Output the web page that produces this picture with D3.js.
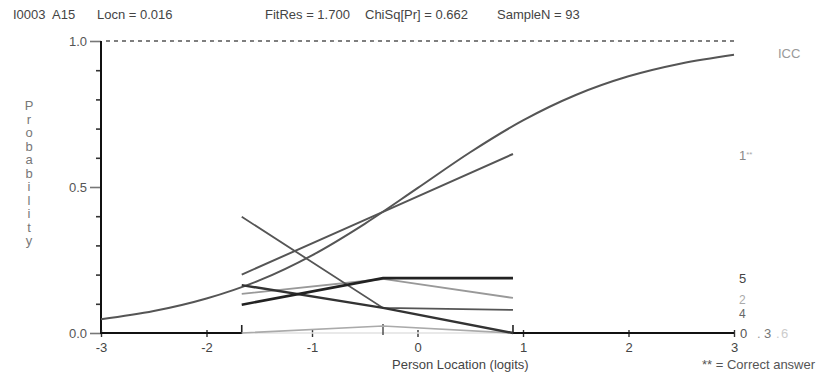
<!DOCTYPE html>
<html><head><meta charset="utf-8">
<script src="https://cdn.jsdelivr.net/npm/d3@7"></script>
<style>
html,body{margin:0;padding:0;background:#fff;}
svg text{font-family:"Liberation Sans",Arial,sans-serif;}
</style></head>
<body>
<svg id="c" width="819" height="379"></svg>
<script>
// ---- data ----
const headerLabels = ["I0003  A15", "Locn = 0.016", "FitRes = 1.700", "ChiSq[Pr] = 0.662", "SampleN = 93"];
const xTicks = [-3, -2, -1, 0, 1, 2, 3];
const yMajorTicks = [0, 0.5, 1];
const yMinorTicks = [0.1, 0.2, 0.3, 0.4, 0.6, 0.7, 0.8, 0.9];
const iccTheta = [-3, -2.5, -2, -1.5, -1, -0.5, 0, 0.5, 1, 1.5, 2, 2.5, 3];
const iccProb  = [0.047, 0.075, 0.118, 0.180, 0.266, 0.374, 0.496, 0.619, 0.728, 0.815, 0.879, 0.923, 0.953];
const classMeans = [-1.666, -0.327, 0.905];
const option1 = [0.200, 0.415, 0.613];
const option2 = [0.134, 0.185, 0.120];
const option3 = [0.164, 0.086, 0.000];
const option4 = [0.398, 0.086, 0.079];
const option5 = [0.097, 0.188, 0.188];
const option6 = [0.000, 0.024, 0.000];

const svg = d3.select("#c");
const x = d3.scaleLinear().domain([-3, 3]).range([101, 734]);
const y = d3.scaleLinear().domain([0, 1]).range([333, 41]);
const FS = 13;

// header
const headerX = [13, 97, 265, 365, 497];
svg.selectAll("text.hdr").data(headerLabels).join("text")
  .attr("class", "hdr").attr("x", (d, i) => headerX[i]).attr("y", 19)
  .attr("font-size", FS).attr("fill", "#444").attr("xml:space", "preserve").text(d => d);

// y axis label (vertical letters)
const yLabel = "Probability".split("");
svg.selectAll("text.ylab").data(yLabel).join("text")
  .attr("class", "ylab").attr("x", 29).attr("y", (d, i) => 110 + i * 13.5)
  .attr("text-anchor", "middle").attr("font-size", FS).attr("fill", "#777").text(d => d);

// dashed line at 1.0
svg.append("line").attr("x1", x(-3) + 5).attr("x2", x(3)).attr("y1", y(1)).attr("y2", y(1))
  .attr("stroke", "#555").attr("stroke-width", 1.6).attr("stroke-dasharray", "4,4");

// y axis
const yMajor = svg.append("g").attr("transform", `translate(${x(-3)},0)`)
  .call(d3.axisLeft(y).tickValues(yMajorTicks).tickSize(11).tickSizeOuter(0).tickPadding(3).tickFormat(d3.format(".1f")));
yMajor.select(".domain").remove();
yMajor.selectAll(".tick line").attr("stroke", "#777").attr("stroke-width", 1.6);
yMajor.selectAll(".tick text").attr("font-size", FS).attr("fill", "#555")
  .attr("font-family", "Liberation Sans, Arial, sans-serif");
const yMinor = svg.append("g").attr("transform", `translate(${x(-3)},0)`)
  .call(d3.axisLeft(y).tickValues(yMinorTicks).tickSize(5).tickFormat(""));
yMinor.select(".domain").remove();
yMinor.selectAll(".tick line").attr("stroke", "#333").attr("stroke-width", 1.6);
svg.append("line").attr("x1", x(-3)).attr("x2", x(-3)).attr("y1", y(1)).attr("y2", y(0) + 1)
  .attr("stroke", "#111").attr("stroke-width", 2);

// x axis
const xAx = svg.append("g").attr("transform", `translate(0,${y(0)})`)
  .call(d3.axisBottom(x).tickValues(xTicks).tickSize(4).tickPadding(6).tickFormat(d => String(d)));
xAx.select(".domain").remove();
xAx.selectAll(".tick line").attr("stroke", "#333").attr("stroke-width", 1.4).attr("y1", -3);
xAx.selectAll(".tick text").attr("font-size", FS).attr("fill", "#444")
  .attr("font-family", "Liberation Sans, Arial, sans-serif");
// axis segments: solid outside class interval range, faint inside
const lo = classMeans[0], hi = classMeans[classMeans.length - 1];
svg.append("line").attr("x1", x(-3)).attr("x2", x(lo)).attr("y1", y(0)).attr("y2", y(0))
  .attr("stroke", "#111").attr("stroke-width", 2);
svg.append("line").attr("x1", x(hi)).attr("x2", x(3)).attr("y1", y(0)).attr("y2", y(0))
  .attr("stroke", "#111").attr("stroke-width", 2);
svg.append("line").attr("x1", x(lo)).attr("x2", x(hi)).attr("y1", y(0)).attr("y2", y(0))
  .attr("stroke", "#e2e2e2").attr("stroke-width", 1.5);
// class interval markers
[lo, hi].forEach(v => {
  svg.append("line").attr("x1", x(v)).attr("x2", x(v)).attr("y1", y(0) + 1).attr("y2", y(0) - 8)
    .attr("stroke", "#222").attr("stroke-width", 1.6);
});
svg.append("line").attr("x1", x(classMeans[1])).attr("x2", x(classMeans[1])).attr("y1", y(0) + 2).attr("y2", y(0) - 9)
  .attr("stroke", "#444").attr("stroke-width", 1.4);

// x labels
svg.append("text").attr("x", 392).attr("y", 369).attr("font-size", FS).attr("fill", "#444").text("Person Location (logits)");
svg.append("text").attr("x", 702).attr("y", 369).attr("font-size", FS).attr("fill", "#555").text("** = Correct answer");

// ICC
svg.append("path").datum(iccTheta.map((t, i) => [t, iccProb[i]]))
  .attr("fill", "none").attr("stroke", "#555").attr("stroke-width", 2)
  .attr("d", d3.line().x(d => x(d[0])).y(d => y(d[1])).curve(d3.curveMonotoneX));

// observed option lines
const options = [
  {vals: option6, color: "#aaa", w: 1.6},
  {vals: option2, color: "#999", w: 1.8},
  {vals: option4, color: "#555", w: 1.8},
  {vals: option3, color: "#333", w: 2.4},
  {vals: option1, color: "#555", w: 2},
  {vals: option5, color: "#222", w: 2.6}
];
const obsLine = d3.line().x((d, i) => x(classMeans[i])).y(d => y(d));
svg.selectAll("path.opt").data(options).join("path").attr("class", "opt")
  .attr("fill", "none").attr("stroke", d => d.color).attr("stroke-width", d => d.w)
  .attr("d", d => obsLine(d.vals));

// right side labels
const rx = 739;
svg.append("text").attr("x", 778).attr("y", 58).attr("font-size", FS).attr("fill", "#999").text("ICC");
const l1 = svg.append("text").attr("x", rx).attr("y", 160).attr("font-size", FS).attr("fill", "#888");
l1.append("tspan").text("1");
l1.append("tspan").attr("font-size", 8).attr("dy", -3).attr("fill", "#aaa").text("**");
svg.append("text").attr("x", rx).attr("y", 283).attr("font-size", FS).attr("fill", "#444").text("5");
svg.append("text").attr("x", rx).attr("y", 304).attr("font-size", 12).attr("fill", "#aaa").text("2");
svg.append("text").attr("x", rx).attr("y", 318).attr("font-size", 12).attr("fill", "#666").text("4");
const zeroLabels = [["0", 740, "#555"], [".", 757, "#999"], ["3", 764, "#777"], [".", 776, "#ccc"], ["6", 781, "#ccc"]];
svg.selectAll("text.zl").data(zeroLabels).join("text").attr("class", "zl")
  .attr("x", d => d[1]).attr("y", 338).attr("font-size", FS).attr("fill", d => d[2]).text(d => d[0]);
</script>
</body></html>
